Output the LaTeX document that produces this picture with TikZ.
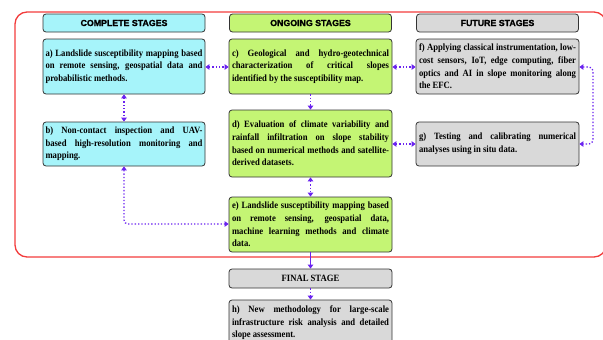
\documentclass[tikz,border=0pt]{standalone}
\usepackage{fontspec}
\setmainfont[FakeStretch=0.9]{Liberation Serif}
\newfontfamily\hdrfont[FakeBold=1.5]{Liberation Sans}
\usetikzlibrary{arrows.meta}
\definecolor{cyanfill}{HTML}{A6F4FA}
\definecolor{greenfill}{HTML}{C4F574}
\definecolor{grayfill}{HTML}{D9D9D9}
\definecolor{frameRed}{HTML}{F23C3C}
\definecolor{arrowViolet}{HTML}{6A22F0}
\definecolor{edgeGray}{HTML}{333333}
\tikzset{
  stagebox/.style={draw=edgeGray, line width=0.8pt, rounded corners=3pt, inner sep=2pt,
    text width=157pt, align=justify, font=\bfseries\fontsize{9.6}{12.6}\selectfont},
  hdrbox/.style={draw=edgeGray, line width=0.8pt, rounded corners=3pt, inner sep=0pt,
    minimum width=162pt, minimum height=18pt, align=center,
    font=\hdrfont\bfseries\fontsize{8.8}{10}\selectfont},
  tip/.tip={Triangle[width=5.5pt,length=4pt]},
  dotlink/.style={draw=arrowViolet, line width=1.3pt, dotted, rounded corners=4pt},
}
\begin{document}
\begin{tikzpicture}[x=1pt,y=-1pt]
\useasboundingbox (0,0) rectangle (603,340);
\begin{scope}
\clip (0,0) rectangle (603,340);
\draw[frameRed, line width=1.3pt, rounded corners=12pt] (15,12) rectangle (606,257);

% headers
\node[hdrbox, fill=cyanfill] (hc) at (124,23) {COMPLETE STAGES};
\node[hdrbox, fill=greenfill] (ho) at (310.5,23) {ONGOING STAGES};
\node[hdrbox, fill=grayfill] (hf) at (497.5,23) {FUTURE STAGES};

% boxes
\node[stagebox, fill=cyanfill, minimum width=162pt, minimum height=55pt] (a) at (124,66.5)
 {a) Landslide susceptibility mapping based\linebreak on remote sensing, geospatial data and\linebreak probabilistic methods.};
\node[stagebox, fill=cyanfill, minimum width=162pt, minimum height=44pt] (b) at (124,144)
 {b) Non-contact inspection and UAV-\linebreak based high-resolution monitoring and\linebreak mapping.};
\node[stagebox, fill=greenfill, minimum width=163pt, minimum height=55pt] (c) at (310.5,66.5)
 {c) Geological and hydro-geotechnical\linebreak characterization of critical slopes\linebreak identified by the susceptibility map.};
\node[stagebox, fill=greenfill, minimum width=163pt, minimum height=67pt] (d) at (310.5,143.5)
 {d) Evaluation of climate variability and\linebreak rainfall infiltration on slope stability\linebreak based on numerical methods and satellite-\linebreak derived datasets.};
\node[stagebox, fill=greenfill, minimum width=163pt, minimum height=55pt] (e) at (310.5,224.5)
 {e) Landslide susceptibility mapping based\linebreak on remote sensing, geospatial data,\linebreak machine learning methods and climate\linebreak data.};
\node[stagebox, fill=grayfill, minimum width=163pt, minimum height=55pt] (f) at (497.5,66.5)
 {f) Applying classical instrumentation, low-\linebreak cost sensors, IoT, edge computing, fiber\linebreak optics and AI in slope monitoring along\linebreak the EFC.};
\node[stagebox, fill=grayfill, minimum width=163pt, minimum height=44pt] (g) at (497.5,144)
 {g) Testing and calibrating numerical\linebreak analyses using in situ data.};
\node[draw=edgeGray, line width=0.8pt, rounded corners=3pt, fill=grayfill, inner sep=0pt,
  minimum width=163pt, minimum height=19pt, font=\bfseries\fontsize{9.6}{10}\selectfont] (fin) at (310.5,278.5) {FINAL STAGE};
\node[stagebox, fill=grayfill, minimum width=163pt, minimum height=46pt] (h) at (310.5,323)
 {h) New methodology for large-scale\linebreak infrastructure risk analysis and detailed\linebreak slope assessment.};

% connectors
\coordinate (bturn) at (124,224);
\coordinate (fgr1) at (593,67);
\coordinate (fgr2) at (593,144);
\draw[dotlink, tip-tip] (a.east |- 0,67) -- (c.west |- 0,67);
\draw[dotlink, tip-tip] (c.east |- 0,67) -- (f.west |- 0,67);
\draw[dotlink, tip-tip] (a.south) -- (b.north);
\draw[dotlink, -tip] (c.south) -- (d.north);
\draw[dotlink, tip-tip] (d.east |- 0,144) -- (g.west |- 0,144);
\draw[dotlink, tip-tip] (d.south) -- (e.north);
\draw[dotlink, tip-tip] (f.east |- 0,67) -- (fgr1) -- (fgr2) -- (g.east |- 0,144);
\draw[dotlink, tip-tip] (b.south) -- (bturn) -- (e.west |- 0,224);
\draw[draw=arrowViolet, line width=1.3pt, -tip] (e.south) -- (fin.north);
\draw[dotlink, -tip] (fin.south) -- (h.north);
\end{scope}
\end{tikzpicture}
\end{document}
